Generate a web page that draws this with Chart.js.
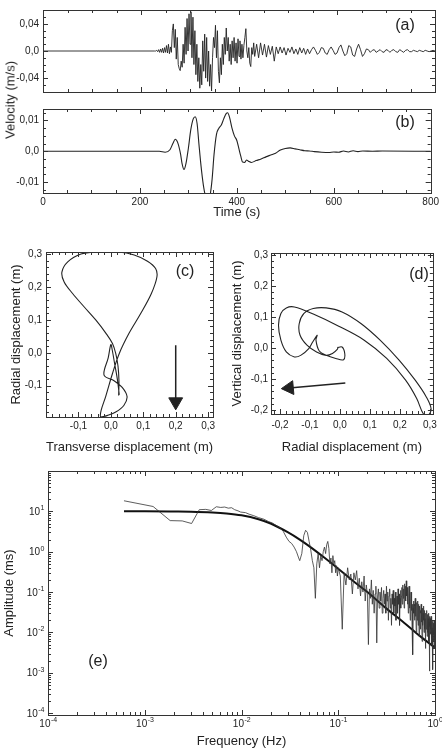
<!DOCTYPE html>
<html>
<head>
<meta charset="utf-8">
<script src="https://cdn.jsdelivr.net/npm/chart.js@4.4.0/dist/chart.umd.min.js"></script>
<style>
body { margin: 0; background: #fff; width: 442px; height: 749px; position: relative; overflow: hidden; font-family: "Liberation Sans", Arial, sans-serif; }
canvas { position: absolute; }
#vel { position: absolute; left: 10px; top: 100px; transform: translate(-50%, -50%) rotate(-90deg); font-size: 13px; color: #222; white-space: nowrap; }
</style>
</head>
<body>
<canvas id="ca" style="left:0;top:0" width="442" height="102"></canvas>
<canvas id="cb" style="left:0;top:99px" width="442" height="121"></canvas>
<canvas id="cc" style="left:0;top:240px" width="232" height="220"></canvas>
<canvas id="cd" style="left:222px;top:240px" width="220" height="220"></canvas>
<canvas id="ce" style="left:0;top:460px" width="442" height="289"></canvas>
<div id="vel">Velocity (m/s)</div>
<script>
const FONT = '"Liberation Sans", Arial, sans-serif';
const INK = '#222';

// (a) broadband velocity, m/s
const aDenseStart = 230, aDenseStep = 2;
const aDense = [0, 0.001, -0.001, 0.002, -0.002, 0.003, -0.002, 0.004, -0.003, 0.005,
  -0.002, 0.008, -0.003, 0.01, -0.004, 0.006, -0.002, 0.03, 0.04, 0.005,
  0.032, -0.012, 0.02, -0.02, -0.026, -0.029, -0.015, -0.024, 0.01, -0.018,
  0.035, -0.005, 0.048, 0.0, 0.055, 0.01, 0.058, -0.01, 0.05, -0.02,
  0.03, -0.035, 0.01, -0.045, -0.01, -0.055, -0.02, -0.05, 0.015, -0.03,
  0.025, -0.04, 0.02, -0.045, 0.0, -0.052, -0.02, -0.059, -0.01, 0.02,
  0.005, 0.038, -0.01, 0.03, -0.03, -0.047, -0.01, -0.035, 0.01, -0.02,
  0.02, -0.005, 0.034, 0.0, 0.02, -0.015, 0.01, -0.02, 0.015, -0.01,
  0.02, -0.015, 0.012, -0.018, 0.018, -0.008, 0.015, -0.012, 0.01, -0.01,
  0.008, 0.02, 0.033, 0.0, -0.01, 0.005, -0.018, -0.023, 0.005, -0.005, 0.012];
const aTailStart = 432, aTailStep = 4;
const aTail = [-0.008, 0.01, -0.01, 0.012, -0.006, 0.01, -0.009, 0.008, -0.005, 0.007,
  -0.015, 0.006, -0.004, 0.006, -0.003, 0.005, -0.006, 0.004, -0.002, 0.006,
  -0.004, 0.003, -0.005, 0.005, -0.003, 0.004, -0.005, 0.003, -0.004, 0.002,
  0.006, 0.001, -0.005, -0.002, 0.005, 0.004, -0.003, -0.005, 0.002, 0.006,
  0.001, -0.005, -0.003, 0.005, 0.009, 0.0, -0.007, -0.004, 0.008, 0.006,
  -0.006, -0.008, 0.003, 0.01, 0.002, -0.008, -0.004, 0.003, 0.002, -0.002,
  0.001, 0.002, -0.002, 0.0, 0.002, -0.001, -0.002, 0.002, 0.001, -0.002,
  0.001, 0.002, -0.001, -0.002, 0.002, 0.0, -0.002, 0.001, 0.002, -0.001,
  -0.001, 0.001, 0.0, -0.001, 0.001, 0.0, -0.001, 0.001, 0.0, -0.001,
  0.0, 0.001, 0.0];

// (b) long-period velocity, m/s
const bTime = [0, 240, 252, 262, 268, 273, 278, 284, 287, 291, 295, 300, 305, 310, 314, 318, 322, 327, 332, 337,
  341, 345, 349, 353, 358, 363, 368, 373, 378, 381, 385, 390, 395, 400, 404, 408, 412, 416, 420, 424,
  430, 440, 450, 460, 470, 480, 490, 500, 510, 520, 530, 540, 550, 560, 575, 590, 600, 610, 620, 630,
  640, 650, 660, 680, 700, 800];
const bVel = [0, 0, -0.0003, 0.0005, 0.0025, 0.0039, 0.0028, -0.001, -0.004, -0.0059, -0.004, 0.001, 0.007, 0.0105, 0.0112, 0.009, 0.002, -0.006, -0.012, -0.0152,
  -0.0154, -0.014, -0.009, -0.001, 0.0055, 0.0075, 0.0085, 0.0105, 0.0122, 0.0125, 0.011, 0.0075, 0.005, 0.0035, 0.001, -0.0015, -0.0035, -0.0036, -0.0028, -0.0032,
  -0.0036, -0.003, -0.0025, -0.0018, -0.0012, -0.0006, 0.0004, 0.0009, 0.0011, 0.0008, 0.0005, 0.0002, 0.0001, -0.0001, -0.0003, -0.0004, -0.0002, -0.0003, 0.0001, -0.0002,
  0.0002, -0.0001, 0.0001, 0.0, 0.0001, 0];

// (c) transverse vs radial displacement, m
const cTrans = [0.026, 0.020, 0.012, 0.004, 0.000, -0.008, -0.021, 0.010, 0.035, 0.050, 0.040, 0.015, -0.010, -0.031, -0.030, -0.016, 0.005, 0.026, 0.056, 0.092,
  0.125, 0.142, 0.138, 0.113, 0.072, 0.021, -0.041, -0.092, -0.133, -0.151, -0.144, -0.118, -0.082, -0.046, -0.015, 0.005, 0.015, 0.022, 0.025, 0.024];
const cRad = [-0.128, -0.080, -0.035, 0.010, 0.025, -0.015, -0.068, -0.085, -0.105, -0.133, -0.160, -0.180, -0.190, -0.195, -0.175, -0.133, -0.063, -0.002, 0.059, 0.119,
  0.180, 0.230, 0.256, 0.278, 0.297, 0.306, 0.306, 0.300, 0.276, 0.245, 0.215, 0.180, 0.139, 0.099, 0.059, 0.028, -0.002, -0.040, -0.085, -0.130];
const cArrowX = [0.2, 0.2], cArrowY = [0.023, -0.149];

// (d) radial vs vertical displacement, m
const dRad = [-0.009, 0.007, 0.016, 0.012, -0.014, -0.046, -0.069, -0.080, -0.076, -0.091, -0.104, -0.131, -0.152, -0.179, -0.197, -0.205, -0.197, -0.179, -0.152, -0.089,
  -0.004, 0.081, 0.156, 0.219, 0.256, 0.278, 0.294, 0.304, 0.288, 0.251, 0.198, 0.134, 0.071, 0.007, -0.046, -0.089, -0.120, -0.136, -0.133, -0.110,
  -0.078, -0.046, -0.025, -0.009, -0.006];
const dVert = [0.001, 0.003, -0.018, -0.038, -0.034, -0.024, -0.010, 0.025, 0.041, 0.019, -0.002, -0.024, -0.029, -0.013, 0.025, 0.073, 0.111, 0.129, 0.132, 0.109,
  0.070, 0.025, -0.034, -0.104, -0.163, -0.212, -0.217, -0.196, -0.158, -0.104, -0.040, 0.025, 0.078, 0.116, 0.129, 0.127, 0.111, 0.078, 0.041, 0.009,
  -0.013, -0.024, -0.018, -0.005, 0.003];
const dArrowX = [0.018, -0.169], dArrowY = [-0.113, -0.129];

// (e) amplitude spectrum: low band listed point by point, high band at 0.005 Hz steps
const eLowF = [0.00061, 0.00122, 0.00183, 0.00244, 0.00305, 0.00366, 0.00427, 0.00488, 0.00549, 0.0061, 0.0067, 0.0073, 0.0079, 0.0085, 0.0092, 0.0098,
  0.011, 0.012, 0.0134, 0.015, 0.017, 0.019, 0.021, 0.023, 0.025, 0.027, 0.029, 0.031, 0.033, 0.035, 0.037, 0.039, 0.040, 0.042, 0.044, 0.046, 0.048,
  0.050, 0.052, 0.054, 0.056, 0.058, 0.060, 0.062, 0.064, 0.066, 0.068, 0.070, 0.072, 0.074, 0.076, 0.078, 0.080, 0.082, 0.084, 0.086, 0.088,
  0.090, 0.092, 0.094, 0.096, 0.098, 0.100];
const eLowA = [18.3, 13.2, 5.9, 5.8, 5.0, 11.0, 11.2, 10.5, 13.0, 12.5, 12.8, 12.0, 12.3, 11.0, 10.3, 9.6,
  9.3, 8.5, 7.8, 7.0, 6.4, 5.6, 5.1, 4.4, 3.9, 3.2, 2.3, 1.8, 1.6, 1.3, 1.0, 0.7, 0.6, 0.9, 2.5, 3.4, 3.0,
  1.8, 1.1, 0.6, 0.4, 0.07, 0.5, 0.9, 0.4, 0.8, 0.6, 1.0, 1.3, 0.9, 1.5, 1.8, 1.2, 0.5, 0.7, 0.3, 0.8,
  0.5, 0.6, 0.3, 0.45, 0.25, 0.4];
const eHighStart = 0.105, eHighStep = 0.005;
const eHighA = [0.25, 0.012, 0.3, 0.15, 0.4, 0.2, 0.28, 0.09, 0.3, 0.2,
  0.34, 0.12, 0.22, 0.08, 0.18, 0.1, 0.25, 0.06, 0.15, 0.09,
  0.005, 0.12, 0.07, 0.2, 0.05, 0.11, 0.03, 0.09, 0.14, 0.0055,
  0.08, 0.12, 0.04, 0.1, 0.06, 0.13, 0.03, 0.07, 0.11, 0.05,
  0.09, 0.03, 0.14, 0.06, 0.1, 0.02, 0.08, 0.12, 0.04, 0.07,
  0.015, 0.09, 0.05, 0.11, 0.03, 0.07, 0.045, 0.1, 0.02, 0.06,
  0.08, 0.03, 0.12, 0.05, 0.09, 0.015, 0.07, 0.11, 0.04, 0.08,
  0.13, 0.05, 0.15, 0.07, 0.12, 0.04, 0.16, 0.09, 0.14, 0.06,
  0.19, 0.08, 0.13, 0.05, 0.1, 0.03, 0.09, 0.14, 0.04, 0.07,
  0.02, 0.06, 0.1, 0.035, 0.07, 0.012, 0.05, 0.0028, 0.04, 0.06,
  0.03, 0.05, 0.02, 0.045, 0.07, 0.025, 0.04, 0.01, 0.035, 0.055,
  0.02, 0.04, 0.06, 0.015, 0.035, 0.05, 0.008, 0.03, 0.045, 0.02,
  0.035, 0.012, 0.03, 0.05, 0.018, 0.028, 0.006, 0.025, 0.04, 0.015,
  0.03, 0.02, 0.045, 0.01, 0.025, 0.035, 0.012, 0.022, 0.004, 0.02,
  0.03, 0.012, 0.025, 0.018, 0.035, 0.008, 0.02, 0.028, 0.01, 0.022,
  0.015, 0.03, 0.006, 0.018, 0.025, 0.0011, 0.014, 0.022, 0.009, 0.018,
  0.012, 0.025, 0.007, 0.016, 0.02, 0.005, 0.013, 0.019, 0.008, 0.0012,
  0.011, 0.017, 0.006, 0.013, 0.009, 0.02, 0.004, 0.012, 0.007, 0.01];
const eFitF = [0.00061, 0.001, 0.002, 0.003, 0.005, 0.007, 0.01, 0.015, 0.02, 0.03, 0.04, 0.05, 0.07, 0.1, 0.15, 0.2, 0.3, 0.5, 0.7, 1.0];
const eFitA = [10, 10, 9.9, 9.8, 9.4, 8.9, 8.0, 6.4, 5.0, 3.05, 2.0, 1.38, 0.75, 0.38, 0.17, 0.1, 0.043, 0.016, 0.0081, 0.0042];

// tick values
const tTicks = [0, 200, 400, 600, 800];
const aTicks = [-0.04, 0, 0.04];
const bTicks = [-0.01, 0, 0.01];
const cxTicks = [-0.1, 0, 0.1, 0.2, 0.3];
const cyTicks = [-0.1, 0, 0.1, 0.2, 0.3];
const dxTicks = [-0.2, -0.1, 0, 0.1, 0.2, 0.3];
const dyTicks = [-0.2, -0.1, 0, 0.1, 0.2, 0.3];
const eXTicks = [1e-4, 1e-3, 1e-2, 1e-1, 1];
const eYTicks = [1e-4, 1e-3, 1e-2, 1e-1, 1, 10];

const pts = (xs, ys) => xs.map((x, i) => ({x, y: ys[i]}));
const comma = d => v => v === 0 ? '0,0' : v.toFixed(d).replace('.', ',');
const expOf = v => String(Math.round(Math.log10(v)));

// box frame with inward ticks on all four sides
const frame = {
  id: 'frame',
  afterDatasetsDraw(chart, args, o) {
    const {ctx, chartArea: a, scales} = chart;
    const minors = (s, step) => {
      const out = [];
      if (step === 'log') {
        for (let e = Math.floor(Math.log10(s.min)); e < Math.log10(s.max); e++)
          for (let m = 2; m < 10; m++) out.push(m * Math.pow(10, e));
      } else {
        for (let v = Math.ceil(s.min / step - 1e-9) * step; v <= s.max + 1e-12; v += step) out.push(v);
      }
      return out;
    };
    const marks = (s, step) => s.ticks.map(t => [t.value, 5]).concat(minors(s, step).map(v => [v, 3]));
    ctx.save();
    ctx.strokeStyle = '#333';
    ctx.lineWidth = 1;
    ctx.beginPath();
    marks(scales.x, o.x).forEach(([v, len]) => {
      const p = Math.round(scales.x.getPixelForValue(v)) + 0.5;
      if (p < a.left || p > a.right + 1) return;
      ctx.moveTo(p, a.bottom); ctx.lineTo(p, a.bottom - len);
      ctx.moveTo(p, a.top); ctx.lineTo(p, a.top + len);
    });
    marks(scales.y, o.y).forEach(([v, len]) => {
      const p = Math.round(scales.y.getPixelForValue(v)) + 0.5;
      if (p < a.top || p > a.bottom + 1) return;
      ctx.moveTo(a.left, p); ctx.lineTo(a.left + len, p);
      ctx.moveTo(a.right, p); ctx.lineTo(a.right - len, p);
    });
    ctx.stroke();
    ctx.strokeRect(Math.round(a.left) + 0.5, Math.round(a.top) + 0.5, Math.round(a.right - a.left), Math.round(a.bottom - a.top));
    ctx.restore();
  }
};

// "10" with a raised exponent, for the log axes
const powLabels = {
  id: 'powLabels',
  afterDraw(chart, args, o) {
    if (!o.on) return;
    const {ctx, chartArea: a, scales} = chart;
    const put = (v, cx, cy, align) => {
      const e = expOf(v);
      ctx.font = '10px ' + FONT;
      const w1 = ctx.measureText('10').width;
      ctx.font = '7px ' + FONT;
      const w2 = ctx.measureText(e).width;
      const x0 = align === 'center' ? cx - (w1 + w2) / 2 : cx - w1 - w2;
      ctx.font = '10px ' + FONT;
      ctx.fillText('10', x0, cy + 3.5);
      ctx.font = '7px ' + FONT;
      ctx.fillText(e, x0 + w1 + 0.5, cy - 1);
    };
    ctx.save();
    ctx.fillStyle = INK;
    ctx.textAlign = 'left';
    ctx.textBaseline = 'alphabetic';
    scales.x.ticks.forEach(t => put(t.value, scales.x.getPixelForValue(t.value), a.bottom + 8, 'center'));
    scales.y.ticks.forEach(t => put(t.value, a.left - 4, scales.y.getPixelForValue(t.value), 'right'));
    ctx.restore();
  }
};

// panel letter
const tag = {
  id: 'tag',
  afterDraw(chart, args, o) {
    const ctx = chart.ctx;
    ctx.save();
    ctx.font = '16px ' + FONT;
    ctx.fillStyle = INK;
    ctx.textAlign = 'center';
    ctx.textBaseline = 'middle';
    ctx.fillText(o.text, o.x, o.y);
    ctx.restore();
  }
};

function axis(o) {
  return {
    type: o.type || 'linear',
    min: o.min, max: o.max,
    grid: {display: false, drawTicks: false},
    border: {display: false},
    ticks: {
      display: o.labels !== false,
      font: {size: 10, family: FONT}, color: INK,
      padding: o.pad, autoSkip: false, maxRotation: 0,
      callback: v => o.fmt(v)
    },
    afterBuildTicks: s => { s.ticks = o.ticks.map(v => ({value: v})); },
    afterFit: s => { if (s.isHorizontal()) s.height = o.size; else s.width = o.size; },
    title: o.title ? {display: true, text: o.title, color: INK, font: {size: 13, family: FONT}, padding: o.titlePad} : {display: false}
  };
}

function panel(id, datasets, o) {
  return new Chart(document.getElementById(id), {
    type: 'scatter',
    data: {datasets},
    options: {
      responsive: false, animation: false, events: [],
      layout: {padding: o.pad},
      elements: {point: {radius: 0}, line: {borderWidth: 1, borderColor: INK}},
      plugins: {legend: {display: false}, tooltip: {enabled: false}, frame: o.frame, tag: o.tag, powLabels: {on: !!o.pow}},
      scales: {x: axis(o.x), y: axis(o.y)}
    },
    plugins: [frame, tag, powLabels]
  });
}

const line = (data, extra) => Object.assign({data, showLine: true, borderColor: INK, borderWidth: 1, pointRadius: 0, tension: 0}, extra || {});
const arrow = (xs, ys, rot) => line(pts(xs, ys), {borderWidth: 1.5, pointRadius: [0, 8], pointStyle: 'triangle', pointRotation: rot,
  pointBackgroundColor: INK, pointBorderColor: INK, pointBorderWidth: 1});

const aData = [{x: 0, y: 0}, {x: 228, y: 0}]
  .concat(aDense.map((v, i) => ({x: aDenseStart + i * aDenseStep, y: v})))
  .concat(aTail.map((v, i) => ({x: aTailStart + i * aTailStep, y: v})));

panel('ca', [line(aData, {borderWidth: 0.9})], {
  pad: {top: 1, right: 7, bottom: 1, left: 0},
  frame: {x: 50, y: 0.01},
  tag: {text: '(a)', x: 405, y: 26},
  x: {min: 0, max: 800, ticks: tTicks, fmt: String, labels: false, size: 0, pad: 0},
  y: {min: -0.0606, max: 0.0606, ticks: aTicks, fmt: comma(2), size: 43, pad: 4}
});

panel('cb', [line(pts(bTime, bVel), {borderWidth: 1.1, cubicInterpolationMode: 'monotone'})], {
  pad: {top: 1, right: 7, bottom: 0, left: 0},
  frame: {x: 50, y: 0.0025},
  tag: {text: '(b)', x: 405, y: 24},
  x: {min: 0, max: 800, ticks: tTicks, fmt: String, size: 27, pad: 3, title: 'Time (s)', titlePad: {top: 0, bottom: 0}},
  y: {min: -0.0135, max: 0.0137, ticks: bTicks, fmt: comma(2), size: 43, pad: 4}
});

panel('cc', [line(pts(cTrans, cRad), {borderWidth: 1.1, tension: 0.35}), arrow(cArrowX, cArrowY, 180)], {
  pad: {top: 12, right: 19, bottom: 0, left: 0},
  frame: {x: 0.02, y: 0.02},
  tag: {text: '(c)', x: 185, y: 32},
  x: {min: -0.2, max: 0.315, ticks: cxTicks, fmt: comma(1), size: 43, pad: 3, title: 'Transverse displacement (m)', titlePad: {top: 0, bottom: 5}},
  y: {min: -0.195, max: 0.306, ticks: cyTicks, fmt: comma(1), size: 46, pad: 4, title: 'Radial displacement (m)', titlePad: {top: 9, bottom: 0}}
});

panel('cd', [line(pts(dRad, dVert), {borderWidth: 1.1, tension: 0.35}), arrow(dArrowX, dArrowY, 265)], {
  pad: {top: 13, right: 3, bottom: 0, left: 0},
  frame: {x: 0.02, y: 0.02},
  tag: {text: '(d)', x: 197, y: 35},
  x: {min: -0.23, max: 0.31, ticks: dxTicks, fmt: comma(1), size: 46, pad: 5, title: 'Radial displacement (m)', titlePad: {top: 0, bottom: 5}},
  y: {min: -0.213, max: 0.306, ticks: dyTicks, fmt: comma(1), size: 49, pad: 3, title: 'Vertical displacement (m)', titlePad: {top: 8, bottom: 0}}
});

const eData = pts(eLowF, eLowA).concat(eHighA.map((a, i) => ({x: eHighStart + i * eHighStep, y: a})));
panel('ce', [
  line(eData, {borderColor: '#333', borderWidth: 0.8}),
  line(pts(eFitF, eFitA), {borderColor: '#111', borderWidth: 2, cubicInterpolationMode: 'monotone'})
], {
  pad: {top: 11, right: 7, bottom: 0, left: 0},
  frame: {x: 'log', y: 'log'},
  tag: {text: '(e)', x: 98, y: 202},
  pow: true,
  x: {type: 'logarithmic', min: 1e-4, max: 1, ticks: eXTicks, fmt: String, labels: false, size: 34, pad: 3, title: 'Frequency (Hz)', titlePad: {top: 0, bottom: 0}},
  y: {type: 'logarithmic', min: 0.9e-4, max: 100, ticks: eYTicks, fmt: String, labels: false, size: 48, pad: 4, title: 'Amplitude (ms)', titlePad: {top: 2, bottom: 0}}
});
</script>
</body>
</html>
